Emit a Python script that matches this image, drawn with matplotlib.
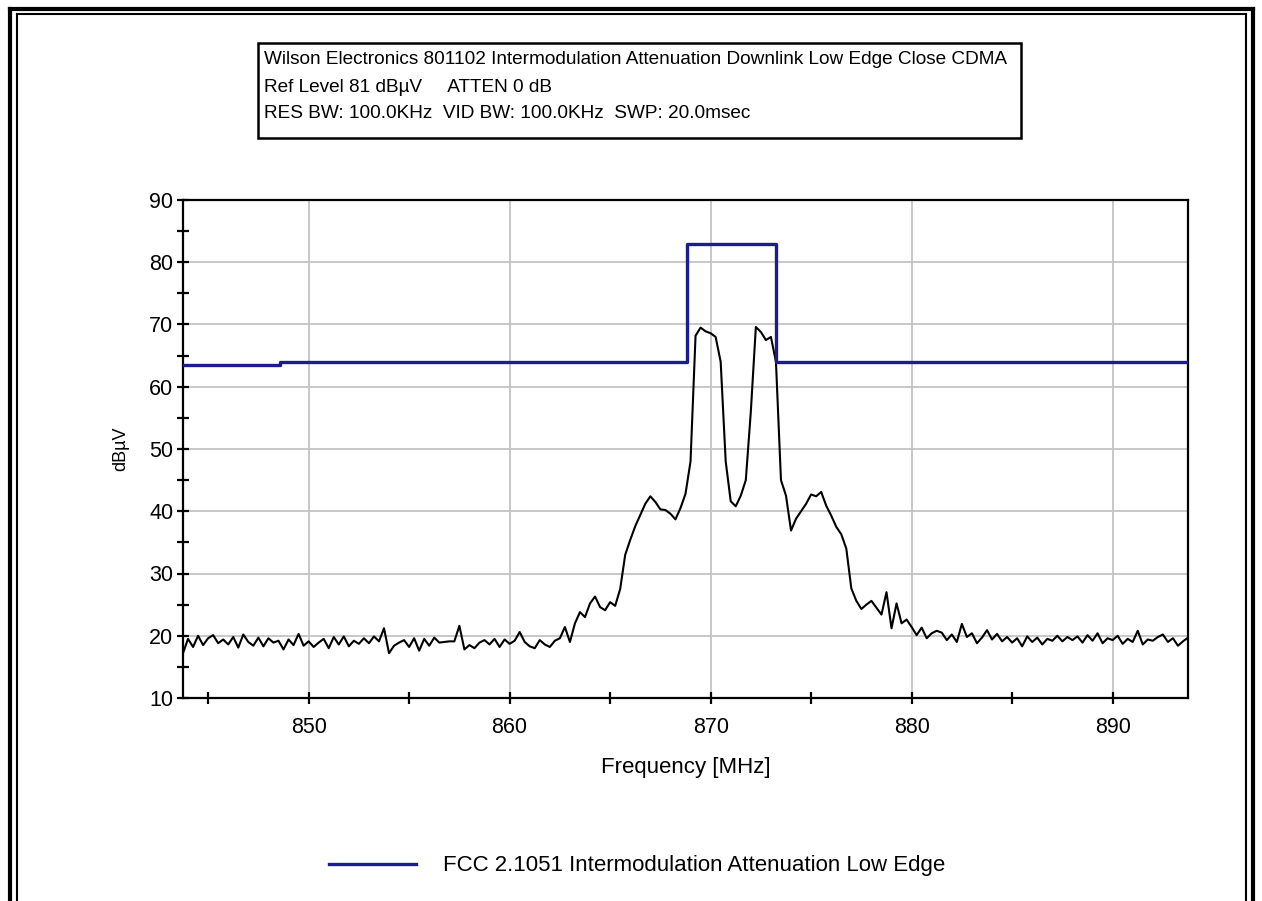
import numpy as np
import matplotlib
matplotlib.use("Agg")
import matplotlib.pyplot as plt
from matplotlib.lines import Line2D
from matplotlib.patches import Rectangle

plt.rcParams['font.family'] = ['Liberation Sans', 'DejaVu Sans']

# Sweep: 843.75 .. 893.75 MHz, 0.25 MHz steps (201 points)
freq_start = 843.75
freq_step = 0.25
level = [
    # 843.75 - 861.5  (noise floor)
    17.2, 19.5, 18.2, 20.0, 18.5, 19.6, 20.1, 18.8, 19.4, 18.6,
    19.8, 18.1, 20.2, 19.0, 18.4, 19.7, 18.3, 19.6, 18.9, 19.2,
    17.8, 19.4, 18.5, 20.3, 18.4, 19.1, 18.2, 18.9, 19.5, 18.0,
    19.8, 18.6, 19.9, 18.3, 19.2, 18.7, 19.6, 18.8, 19.9, 19.1,
    21.2, 17.2, 18.4, 18.9, 19.3, 18.2, 19.6, 17.6, 19.5, 18.4,
    19.7, 18.9, 19.0, 19.1, 19.1, 21.6, 17.8, 18.5, 18.0, 18.9,
    19.3, 18.6, 19.5, 18.2, 19.4, 18.7, 19.2, 20.6, 19.0, 18.3,
    18.0, 19.3,
    # 861.75 - 880.0  (carriers and intermod products)
    18.6, 18.2, 19.2, 19.6, 21.4, 19.0, 22.0, 23.8, 23.0, 25.2,
    26.3, 24.6, 24.1, 25.4, 24.8, 27.5, 33.0, 35.4, 37.6, 39.4,
    41.2, 42.4, 41.5, 40.3, 40.2, 39.6, 38.7, 40.5, 42.8, 48.0,
    68.2, 69.5, 68.9, 68.6, 68.0, 64.0, 48.0, 41.6, 40.8, 42.5,
    45.0, 56.0, 69.6, 68.8, 67.5, 68.0, 64.0, 45.0, 42.5, 36.9,
    38.8, 40.0, 41.2, 42.7, 42.4, 43.1, 40.9, 39.3, 37.5, 36.3,
    34.0, 27.6, 25.6, 24.3, 25.0, 25.6, 24.5, 23.4, 27.0, 21.2,
    25.2, 22.0, 22.6, 21.4,
    # 880.25 - 893.75  (noise floor)
    20.1, 21.3, 19.6, 20.4, 20.8, 20.5, 19.3, 20.2, 19.0, 21.9,
    19.8, 20.4, 18.8, 19.7, 20.9, 19.4, 20.3, 19.1, 19.8, 18.9,
    19.6, 18.3, 19.9, 19.0, 19.7, 18.6, 19.5, 19.2, 20.0, 19.1,
    19.8, 19.3, 19.9, 18.9, 20.1, 19.2, 20.4, 18.8, 19.6, 19.3,
    20.0, 18.7, 19.5, 19.0, 20.8, 18.6, 19.4, 19.2, 19.8, 20.2,
    19.0, 19.6, 18.4, 19.1, 19.7,
]
freq = freq_start + freq_step * np.arange(len(level))

# FCC limit line (step)
limit_freq = [843.75, 848.6, 848.6, 868.8, 868.8, 873.25, 873.25, 893.75]
limit_level = [63.5, 63.5, 64.0, 64.0, 83.0, 83.0, 64.0, 64.0]
limit_label = 'FCC 2.1051 Intermodulation Attenuation Low Edge'

header_lines = [
    'Wilson Electronics 801102 Intermodulation Attenuation Downlink Low Edge Close CDMA',
    'Ref Level 81 dB\u00b5V     ATTEN 0 dB',
    'RES BW: 100.0KHz  VID BW: 100.0KHz  SWP: 20.0msec',
]

W, H = 1262, 901
fig = plt.figure(figsize=(W / 100, H / 100), dpi=100)
ax = fig.add_axes([183 / W, 1 - 698 / H, (1188 - 183) / W, (698 - 200) / H])

ax.plot(freq, level, color='black', lw=1.5, zorder=3)
blue, = ax.plot(limit_freq, limit_level, color='#1c1c8e', lw=2.4, zorder=4,
                label=limit_label)

ax.set_xlim(843.75, 893.75)
ax.set_ylim(10, 90)
ax.set_xticks([850, 860, 870, 880, 890])
ax.set_xticks([845, 855, 865, 875, 885], minor=True)
ax.set_yticks(np.arange(10, 91, 10))
ax.set_yticks(np.arange(15, 90, 10), minor=True)
ax.grid(True, which='major', color='#c4c4c4', lw=1.3)
ax.set_axisbelow(True)

ax.tick_params(which='both', direction='inout', length=8, width=1.6, labelsize=15.5)
ax.tick_params(axis='x', which='both', pad=10)
ax.tick_params(axis='y', which='both', pad=3)
for s in ax.spines.values():
    s.set_linewidth(1.6)
    s.set_color('black')

ax.set_xlabel('Frequency [MHz]', fontsize=16, labelpad=13)
ax.set_ylabel('dB\u00b5V', fontsize=13, labelpad=14)

# header box
fig.add_artist(Rectangle((258 / W, 1 - 138 / H), (1021 - 258) / W, (138 - 43) / H,
                         transform=fig.transFigure, fill=False, lw=1.8,
                         edgecolor='black'))
for i, line in enumerate(header_lines):
    fig.text(264 / W, 1 - (60 + 27 * i) / H, line, fontsize=13.7,
             ha='left', va='center')

# legend
fig.legend(handles=[blue], loc='center', bbox_to_anchor=(637 / W, 1 - 866 / H),
           frameon=False, fontsize=16, handlelength=3.9, handletextpad=1.2)

# outer frames
for x0, y0, x1, lw in [(9.5, 8.5, 1253, 3), (16.5, 13.5, 1246, 1.5)]:
    fig.add_artist(Line2D([x0 / W, x0 / W], [0, 1 - y0 / H], color='black', lw=lw,
                          transform=fig.transFigure))
    fig.add_artist(Line2D([x0 / W, x1 / W], [1 - y0 / H, 1 - y0 / H], color='black',
                          lw=lw, transform=fig.transFigure))
    fig.add_artist(Line2D([x1 / W, x1 / W], [0, 1 - y0 / H], color='black', lw=lw,
                          transform=fig.transFigure))

fig.savefig('out.png', dpi=100)
